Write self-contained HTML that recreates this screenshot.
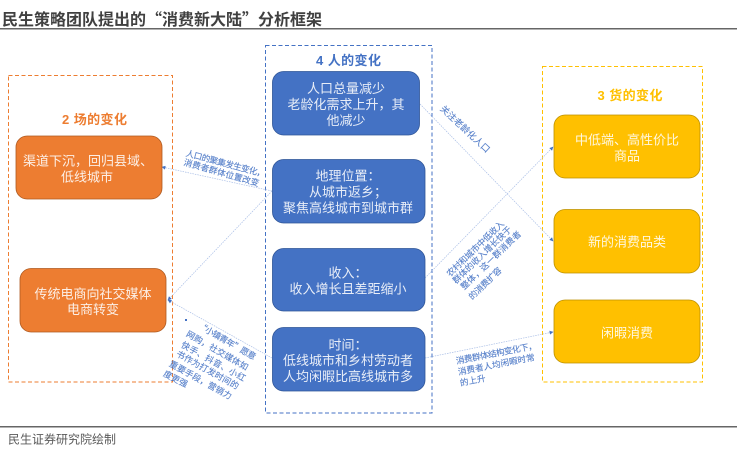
<!DOCTYPE html>
<html><head><meta charset="utf-8">
<style>
html,body{margin:0;padding:0;background:#fff;width:737px;height:449px;overflow:hidden}
svg{display:block}
text{font-family:"Noto Sans CJK SC","Liberation Sans",sans-serif;text-anchor:middle;dominant-baseline:central}
.w{fill:#fff;font-size:13px;opacity:.88}
.h{font-size:13px;font-weight:bold;font-family:"Liberation Sans","Noto Sans CJK SC",sans-serif}
.s{fill:#4472C4;font-size:8.6px;text-anchor:start;opacity:.9;stroke:#4472C4;stroke-width:.12}
</style></head><body>
<svg width="737" height="449" viewBox="0 0 737 449" xmlns="http://www.w3.org/2000/svg">
<defs><marker id="a" markerWidth="4" markerHeight="4" refX="3.500" refY="2" orient="auto" markerUnits="userSpaceOnUse"><path d="M0 0L4 2L0 4Z" fill="#4472C4"/></marker></defs>

<text x="2" y="18" style="text-anchor:start;font-size:16px;font-weight:bold;fill:#404040" textLength="320">民生策略团队提出的“消费新大陆”分析框架</text>
<rect x="0" y="28" width="737" height="1.5" fill="#666"/>
<rect x="0" y="426" width="737" height="1.5" fill="#666"/>
<text x="8" y="439" style="text-anchor:start;font-size:12px;fill:#595959" textLength="108">民生证券研究院绘制</text>

<rect x="8.5" y="75.5" width="164" height="306.5" fill="none" stroke="#ED7D31" stroke-width="1" stroke-dasharray="4 2.5"/>
<rect x="265.5" y="45.5" width="166.5" height="367.5" fill="none" stroke="#4472C4" stroke-width="1" stroke-dasharray="4 2.5"/>
<rect x="542.5" y="66.5" width="160" height="315.5" fill="none" stroke="#FFC000" stroke-width="1" stroke-dasharray="4 2.5"/>

<g fill="none" stroke="#A9BEE6" stroke-width=".7" stroke-dasharray="1.5 1">
<path d="M272 191L162 167" marker-end="url(#a)"/>
<path d="M272 191L168 300" marker-end="url(#a)"/>
<path d="M272 358L168 300" marker-end="url(#a)"/>
<path d="M420 104L553 241" marker-end="url(#a)"/>
<path d="M425 278L553 147" marker-end="url(#a)"/>
<path d="M425 358L553 332" marker-end="url(#a)"/>
</g>
<rect x="185" y="319" width="2" height="2" fill="#4472C4"/>

<g fill="#ED7D31" stroke="#AE5A21" stroke-width=".8">
<rect x="16" y="136" width="146" height="63" rx="11"/>
<rect x="20" y="268.500" width="146" height="63.500" rx="11"/>
</g>
<g fill="#4472C4" stroke="#2F5597" stroke-width=".8">
<rect x="272.500" y="71.500" width="147" height="63.500" rx="11"/>
<rect x="272.500" y="159.500" width="152.500" height="63.500" rx="11"/>
<rect x="272.500" y="248.500" width="152.500" height="62.500" rx="11"/>
<rect x="272.500" y="327.500" width="152.500" height="63.500" rx="11"/>
</g>
<g fill="#FFC000" stroke="#BC9000" stroke-width=".8">
<rect x="554" y="115" width="146" height="63" rx="11"/>
<rect x="554" y="209.500" width="146" height="63.500" rx="11"/>
<rect x="554" y="300" width="146" height="63" rx="11"/>
</g>

<text class="h" x="94.500" y="119.500" fill="#ED7D31" textLength="65">2 场的变化</text>
<text class="h" x="348.500" y="60.500" fill="#4472C4" textLength="65">4 人的变化</text>
<text class="h" x="630" y="95.500" fill="#FFC000" textLength="65">3 货的变化</text>

<g>
<text class="w" x="346" y="87.500">人口总量减少</text>
<text class="w" x="346" y="103.500">老龄化需求上升，其</text>
<text class="w" x="346" y="119.500">他减少</text>
<text class="w" x="348" y="175">地理位置：</text>
<text class="w" x="348" y="191">从城市返乡；</text>
<text class="w" x="348" y="207">聚焦高线城市到城市群</text>
<text class="w" x="348" y="272">收入：</text>
<text class="w" x="348" y="288">收入增长且差距缩小</text>
<text class="w" x="348" y="344">时间：</text>
<text class="w" x="348" y="359.500">低线城市和乡村劳动者</text>
<text class="w" x="348" y="375.500">人均闲暇比高线城市多</text>
<text class="w" x="88" y="160">渠道下沉，回归县域、</text>
<text class="w" x="87" y="176">低线城市</text>
<text class="w" x="93" y="293">传统电商向社交媒体</text>
<text class="w" x="93" y="308.500">电商转变</text>
<text class="w" x="627" y="139">中低端、高性价比</text>
<text class="w" x="627" y="155">商品</text>
<text class="w" x="627" y="241">新的消费品类</text>
<text class="w" x="627" y="332">闲暇消费</text>
</g>

<g>
<text class="s" transform="translate(186 153) rotate(15)" textLength="82">人口的聚集发生变化，</text>
<text class="s" transform="translate(184 162) rotate(16)" textLength="78">消费者群体位置改变</text>

<text class="s" style="font-size:9px" transform="translate(442 107) rotate(43)" textLength="64">关注老龄化人口</text>

<text class="s" transform="translate(448 275) rotate(-44)" textLength="76">农村和城市中低收入</text>
<text class="s" transform="translate(454 282) rotate(-44)" textLength="78">群体的收入增长快于</text>
<text class="s" transform="translate(462 288) rotate(-44)" textLength="80">整体，这一群消费者</text>
<text class="s" transform="translate(470 298) rotate(-44)" textLength="42">的消费扩容</text>

<text class="s" transform="translate(456 361) rotate(-11)" textLength="82">消费群体结构变化下，</text>
<text class="s" transform="translate(458 372) rotate(-11)" textLength="78">消费者人均闲暇时常</text>
<text class="s" transform="translate(460 383) rotate(-11)" textLength="26">的上升</text>

<text class="s" transform="translate(199 325) rotate(30)" textLength="65">“小镇青年”愿意</text>
<text class="s" transform="translate(187 333) rotate(30)" textLength="70">网购，社交媒体如</text>
<text class="s" transform="translate(182 344) rotate(29)" textLength="72">快手、抖音、小红</text>
<text class="s" transform="translate(177 353) rotate(29)" textLength="70">书作为打发时间的</text>
<text class="s" transform="translate(170 363) rotate(29)" textLength="70">重要手段，营销力</text>
<text class="s" transform="translate(164 373) rotate(27)" textLength="26">度更强</text>
</g>
</svg>
</body></html>
